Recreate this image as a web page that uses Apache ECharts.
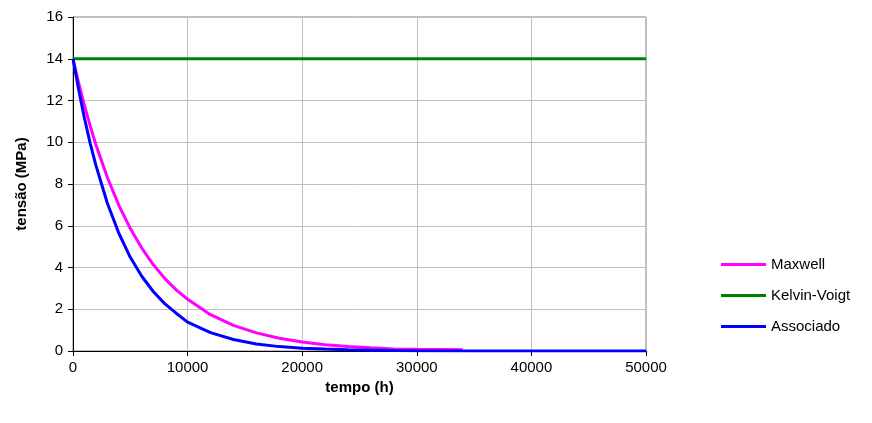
<!DOCTYPE html>
<html>
<head>
<meta charset="utf-8">
<script src="https://cdn.jsdelivr.net/npm/echarts@6/dist/echarts.min.js"></script>
<style>
html,body{margin:0;padding:0;background:#fff;}
#chart{width:872px;height:423px;}
</style>
</head>
<body>
<div id="chart"></div>
<script>
var xTicks = [0, 10000, 20000, 30000, 40000, 50000];
var yTicks = [0, 2, 4, 6, 8, 10, 12, 14, 16];

var maxwellT = [0, 500, 1000, 1500, 2000, 3000, 4000, 5000, 6000, 7000, 8000, 9000, 10000, 12000, 14000, 16000, 18000, 20000, 22000, 24000, 26000, 28000, 30000, 32000, 34000];
var maxwellV = [14, 12.83, 11.76, 10.78, 9.88, 8.31, 6.98, 5.87, 4.93, 4.14, 3.48, 2.93, 2.48, 1.74, 1.23, 0.87, 0.61, 0.43, 0.30, 0.21, 0.15, 0.10, 0.08, 0.07, 0.06];

var kelvinT = [0, 50000];
var kelvinV = [14, 14];

var assocT = [0, 500, 1000, 1500, 2000, 3000, 4000, 5000, 6000, 7000, 8000, 9000, 10000, 12000, 14000, 16000, 18000, 20000, 22000, 24000, 26000, 28000, 30000, 35000, 40000, 45000, 50000];
var assocV = [14, 12.50, 11.15, 9.95, 8.89, 7.08, 5.64, 4.49, 3.58, 2.85, 2.27, 1.81, 1.38, 0.88, 0.55, 0.34, 0.21, 0.13, 0.09, 0.06, 0.04, 0.02, 0.01, 0, 0, 0, 0];

function pairs(t, v) { return t.map(function (x, i) { return [x, v[i]]; }); }

var FONT = '"Liberation Sans", Arial, sans-serif';
var chart = echarts.init(document.getElementById('chart'), null, {renderer: 'canvas'});
chart.setOption({
  animation: false,
  backgroundColor: '#ffffff',
  textStyle: {fontFamily: FONT, color: '#000'},
  grid: {left: 73, right: 226, top: 17, bottom: 72, show: true, borderColor: '#808080', borderWidth: 1},
  xAxis: {
    type: 'value', min: xTicks[0], max: xTicks[xTicks.length - 1], interval: 10000,
    name: 'tempo (h)', nameLocation: 'middle', nameGap: 23,
    nameTextStyle: {fontFamily: FONT, fontSize: 15, fontWeight: 'bold', color: '#000'},
    axisLine: {show: true, lineStyle: {color: '#000', width: 1}},
    axisTick: {show: true, inside: false, length: 5, lineStyle: {color: '#000'}},
    axisLabel: {fontFamily: FONT, fontSize: 15, color: '#000', margin: 9,
      formatter: function (v) { return String(v); }},
    splitLine: {show: true, lineStyle: {color: '#c0c0c0', width: 1}}
  },
  yAxis: {
    type: 'value', min: yTicks[0], max: yTicks[yTicks.length - 1], interval: 2,
    name: 'tensão (MPa)', nameLocation: 'middle', nameGap: 44, nameRotate: 90,
    nameTextStyle: {fontFamily: FONT, fontSize: 15, fontWeight: 'bold', color: '#000'},
    axisLine: {show: true, lineStyle: {color: '#000', width: 1}},
    axisTick: {show: true, inside: false, length: 5, lineStyle: {color: '#000'}},
    axisLabel: {fontFamily: FONT, fontSize: 15, color: '#000', margin: 10},
    splitLine: {show: true, lineStyle: {color: '#c0c0c0', width: 1}}
  },
  legend: {
    orient: 'vertical', left: 716, top: 252, itemWidth: 45, itemHeight: 3, itemGap: 16,
    icon: 'rect',
    textStyle: {fontFamily: FONT, fontSize: 15, color: '#000'},
    data: ['Maxwell', 'Kelvin-Voigt', 'Associado']
  },
  series: [
    {name: 'Maxwell', type: 'line', data: pairs(maxwellT, maxwellV), symbol: 'none', smooth: false,
     lineStyle: {color: '#ff00ff', width: 3}, itemStyle: {color: '#ff00ff'}},
    {name: 'Kelvin-Voigt', type: 'line', data: pairs(kelvinT, kelvinV), symbol: 'none',
     lineStyle: {color: '#008000', width: 3}, itemStyle: {color: '#008000'}},
    {name: 'Associado', type: 'line', data: pairs(assocT, assocV), symbol: 'none', smooth: false,
     lineStyle: {color: '#0000ff', width: 3}, itemStyle: {color: '#0000ff'}}
  ]
});
</script>
</body>
</html>
